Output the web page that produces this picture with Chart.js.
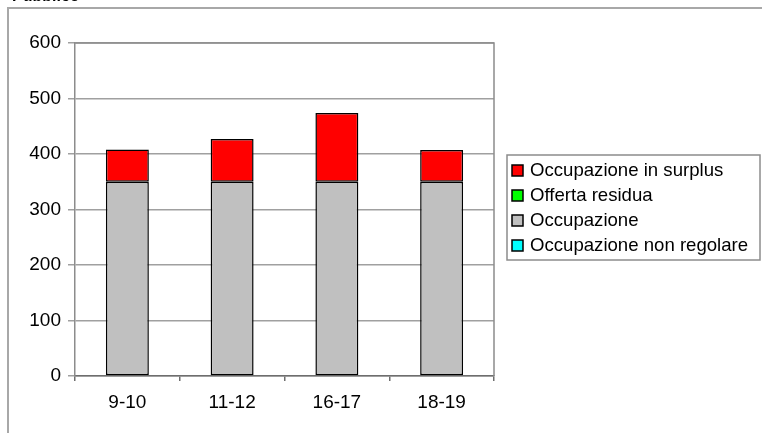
<!DOCTYPE html>
<html>
<head>
<meta charset="utf-8">
<script src="https://cdn.jsdelivr.net/npm/chart.js@4"></script>
<style>
  html, body { margin: 0; padding: 0; background: #fff; }
  #wrap { position: relative; width: 762px; height: 433px; overflow: hidden; }
  #title { position: absolute; left: 12px; top: -13px; font: bold 16px "Liberation Sans", Arial, sans-serif; color: #000; }
</style>
</head>
<body>
<div id="wrap">
  <canvas id="chart" width="762" height="433"></canvas>
  <div id="title">Pubblico</div>
</div>
<script>
// fasce orarie
const categories = ['9-10', '11-12', '16-17', '18-19'];

// series (bottom to top in the stack)
const nonRegolare = [0, 0, 0, 0];
const occupazione = [350, 350, 350, 350];
const offertaResidua = [0, 0, 0, 0];
const surplus = [58, 77, 124, 57];

const yTicks = [0, 100, 200, 300, 400, 500, 600];

const FONT = '"Liberation Sans", Arial, sans-serif';

// frame around the whole chart + border of the plot area
const framePlugin = {
  id: 'frame',
  beforeDraw(chart) {
    const c = chart.ctx;
    c.save();
    c.strokeStyle = '#a8a8a8';
    c.lineWidth = 2;
    c.beginPath();
    c.moveTo(8, 433);
    c.lineTo(8, 8);
    c.lineTo(762, 8);
    c.stroke();
    c.restore();
  },
  afterDatasetsDraw(chart) {
    const a = chart.chartArea;
    const c = chart.ctx;
    c.save();
    c.strokeStyle = '#8c8c8c';
    c.lineWidth = 1.5;
    c.beginPath();
    c.moveTo(a.left, a.top);
    c.lineTo(a.right, a.top);
    c.lineTo(a.right, a.bottom);
    c.stroke();
    c.restore();
  }
};

// Excel style legend box, top series first
const legendPlugin = {
  id: 'boxLegend',
  afterDraw(chart) {
    const c = chart.ctx;
    const x = 507, y = 155, w = 253, h = 105;
    c.save();
    c.strokeStyle = '#8c8c8c';
    c.lineWidth = 1.5;
    c.strokeRect(x, y, w, h);
    c.font = '18.6px ' + FONT;
    c.textBaseline = 'middle';
    const sets = chart.data.datasets.slice().reverse();
    sets.forEach((ds, i) => {
      const cy = y + 15 + i * 25;
      c.fillStyle = ds.backgroundColor;
      c.fillRect(512, cy - 5, 11, 11);
      c.strokeStyle = '#000';
      c.lineWidth = 1.5;
      c.strokeRect(512, cy - 5, 11, 11);
      c.fillStyle = '#000';
      c.fillText(ds.label, 530, cy + 1);
    });
    c.restore();
  }
};

const ds = (label, data, color) => ({
  label, data,
  backgroundColor: color,
  borderColor: '#000',
  borderWidth: 1.5,
  borderSkipped: false,
  barPercentage: 0.41,
  categoryPercentage: 1
});

new Chart(document.getElementById('chart'), {
  type: 'bar',
  data: {
    labels: categories,
    datasets: [
      ds('Occupazione non regolare', nonRegolare, '#00ffff'),
      ds('Occupazione', occupazione, '#c0c0c0'),
      ds('Offerta residua', offertaResidua, '#00ff00'),
      ds('Occupazione in surplus', surplus, '#ff0000')
    ]
  },
  plugins: [framePlugin, legendPlugin],
  options: {
    responsive: false,
    animation: false,
    layout: { padding: { left: 0, top: 43, right: 268, bottom: 0 } },
    plugins: { legend: { display: false }, tooltip: { enabled: false } },
    scales: {
      x: {
        stacked: true,
        afterFit: s => { s.height = 57; },
        grid: { offset: true, drawOnChartArea: false, tickLength: 5, color: '#6e6e6e', lineWidth: 1.5 },
        border: { color: '#6e6e6e', width: 1.5 },
        ticks: { color: '#000', font: { size: 19, family: FONT }, padding: 10 }
      },
      y: {
        stacked: true,
        min: 0,
        max: 600,
        afterFit: s => { s.width = 75; },
        afterBuildTicks: s => { s.ticks = yTicks.map(v => ({ value: v })); },
        grid: { color: '#a0a0a0', lineWidth: 1.5, tickLength: 7 },
        border: { color: '#8c8c8c', width: 1.5 },
        ticks: { color: '#000', font: { size: 19, family: FONT }, padding: 7 }
      }
    }
  }
});
</script>
</body>
</html>
